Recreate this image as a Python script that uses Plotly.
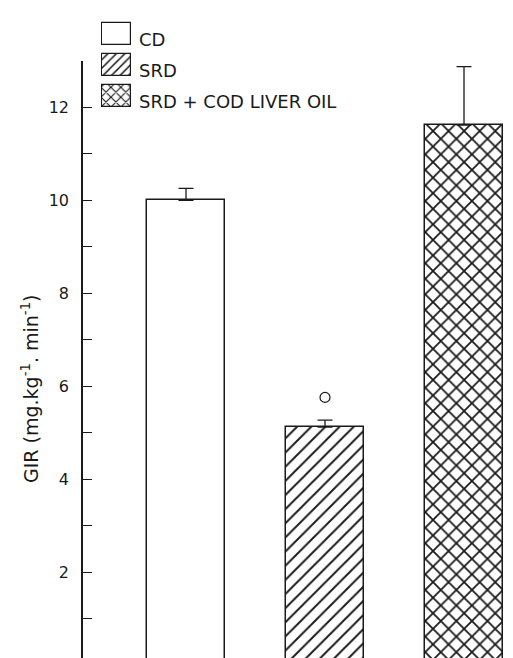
import plotly.graph_objects as go

# ---- data ----
categories = ["CD", "SRD", "SRD + COD LIVER OIL"]
gir_values = [10.0, 5.12, 11.62]
gir_sem = [0.26, 0.15, 1.26]
sig_category = ["SRD"]
sig_marker_y = [5.76]
y_tick_values = [0, 2, 4, 6, 8, 10, 12]
y_tick_labels = ["0", "2", "4", "6", "8", "10", "12"]
patterns = ["", "/", "x"]

W, H = 513, 658
FONT = "DejaVu Sans"
INK = "#1a1a1a"

fig = go.Figure()

# main bars
fig.add_trace(go.Bar(
    x=categories, y=gir_values, width=0.568,
    marker=dict(color="white", line=dict(color=INK, width=1.5),
                pattern=dict(shape=patterns, size=[8, 10, 11], solidity=[0.2, 0.2, 0.3],
                             fgcolor=INK, bgcolor="white", fillmode="replace")),
    error_y=dict(type="data", symmetric=False, array=gir_sem, arrayminus=[0, 0, 0],
                 color=INK, thickness=1.3, width=7.5),
    showlegend=False, xaxis="x", yaxis="y",
))

# significance marker
fig.add_trace(go.Scatter(
    x=sig_category, y=sig_marker_y, mode="markers",
    marker=dict(symbol="circle-open", size=10, color=INK, line=dict(width=1.2)),
    showlegend=False, xaxis="x", yaxis="y",
))

# legend swatches (drawn as bars in a small subplot)
fig.add_trace(go.Bar(
    x=[1, 1, 1], y=[0, 1, 2], base=0, orientation="h", width=0.68,
    marker=dict(color="white", line=dict(color=INK, width=1.2),
                pattern=dict(shape=patterns, size=[7, 6, 7], solidity=[0.2, 0.25, 0.3],
                             fgcolor=INK, bgcolor="white", fillmode="replace")),
    showlegend=False, xaxis="x2", yaxis="y2", hoverinfo="skip",
))

for i, name in enumerate(categories):
    fig.add_annotation(
        text=name, xref="paper", yref="y2", x=129 / W, y=i + 0.18,
        xanchor="left", yanchor="middle", showarrow=False,
        font=dict(family=FONT, size=18, color=INK),
    )

# y-axis title
fig.add_annotation(
    text="GIR (mg.kg<sup>-1</sup>. min<sup>-1</sup>)", xref="paper", yref="paper",
    x=22 / W, y=1 - 381 / H, xanchor="center", yanchor="middle",
    textangle=-90, showarrow=False, font=dict(family=FONT, size=19, color=INK),
)

fig.update_layout(
    width=W, height=H, margin=dict(l=0, r=0, t=0, b=0, autoexpand=False),
    paper_bgcolor="white", plot_bgcolor="white",
    font=dict(family=FONT, color=INK),
    bargap=0,
    xaxis=dict(domain=[75 / W, 1], range=[-0.741, 2.41], type="category",
               showline=True, linecolor="#555", linewidth=2, ticks="",
               showticklabels=False, showgrid=False, zeroline=False,
               anchor="y", fixedrange=True),
    yaxis=dict(domain=[1 / H, 1 - 53 / H], range=[0, 13], anchor="x",
               showline=True, linecolor=INK, linewidth=1.5,
               ticks="inside", ticklen=9, tickwidth=1.3, tickcolor=INK,
               tickvals=y_tick_values, ticktext=y_tick_labels,
               minor=dict(dtick=1, ticks="inside", ticklen=9, tickwidth=1.3, tickcolor=INK),
               tickfont=dict(family=FONT, size=16, color=INK), ticklabelstandoff=9,
               ticklabeloverflow="allow",
               showgrid=False, zeroline=False),
    xaxis2=dict(domain=[93 / W, 124 / W], range=[-0.05, 1.05], anchor="y2",
                visible=False, fixedrange=True),
    yaxis2=dict(domain=[1 - 104 / H, 1 - 10 / H], range=[2.516, -0.516], anchor="x2",
                visible=False, fixedrange=True),
)

fig.write_html("out.html")
